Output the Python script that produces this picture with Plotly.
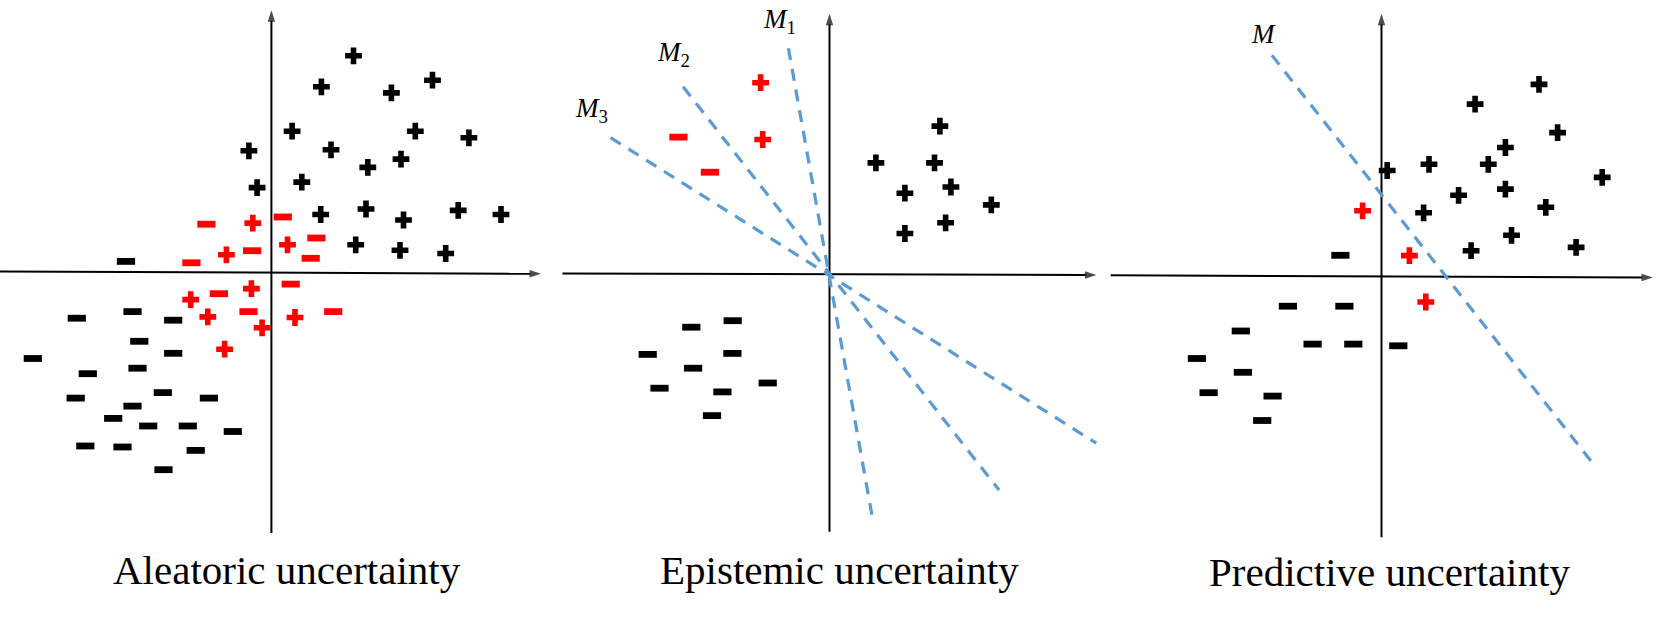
import plotly.graph_objects as go

# ---------------- Panel 1: Aleatoric uncertainty ----------------
p1_black_plus_x = [82.1, 50.0, 120.0, 161.1, 20.7, 143.9, 197.5, -22.5, 59.6, 96.4, 129.6,
                   -14.3, 30.4, 49.3, 94.6, 132.1, 186.8, 229.6, 84.3, 128.6, 174.3]
p1_black_plus_y = [216.6, 185.6, 179.5, 192.2, 141.2, 141.2, 134.6, 121.6, 122.6, 105.0, 113.3,
                   84.8, 90.3, 57.9, 63.4, 52.4, 62.0, 57.9, 27.6, 22.1, 18.9]
p1_red_plus_x = [-18.6, -45.0, 16.1, -20.0, -80.7, -63.6, -9.3, 23.6, -46.8]
p1_red_plus_y = [49.3, 17.6, 27.6, -16.2, -27.2, -44.5, -55.4, -45.1, -76.8]
p1_red_minus_x = [-65.0, 11.4, -19.3, 45.0, -80.0, 39.3, 19.3, -52.5, -22.9, 61.8]
p1_red_minus_y = [48.2, 55.4, 21.7, 34.4, 9.6, 14.1, -11.7, -21.3, -39.2, -39.2]
p1_black_minus_x = [-145.4, -194.6, -138.9, -98.2, -132.1, -238.6, -98.2, -183.6, -133.9, -195.7, -108.6,
                    -62.5, -138.9, -158.2, -123.2, -83.6, -38.6, -186.1, -148.9, -75.7, -107.9]
p1_black_minus_y = [11.0, -45.8, -39.2, -47.8, -68.9, -86.1, -80.9, -101.3, -95.8, -125.7, -120.2,
                    -125.7, -133.7, -146.0, -153.6, -153.6, -159.1, -173.6, -174.6, -178.0, -197.3]

# ---------------- Panel 2: Epistemic uncertainty ----------------
p2_black_plus_x = [110.4, 46.4, 105.0, 121.4, 75.4, 161.8, 116.1, 75.4]
p2_black_plus_y = [147.7, 110.9, 110.9, 86.8, 80.6, 68.9, 51.0, 40.3]
p2_red_plus_x = [-68.9, -66.8]
p2_red_plus_y = [191.1, 134.3]
p2_red_minus_x = [-151.1, -119.6]
p2_red_minus_y = [136.7, 101.6]
p2_black_minus_x = [-96.8, -138.2, -181.8, -97.1, -136.4, -170.0, -107.1, -61.8, -117.5]
p2_black_minus_y = [-46.9, -53.4, -80.6, -79.6, -94.4, -114.4, -118.1, -109.2, -141.8]
p2_model_names = ["M<sub>1</sub>", "M<sub>2</sub>", "M<sub>3</sub>"]
p2_model_x = [[-41.1, 42.9], [-146.4, 169.6], [-218.9, 266.8]]
p2_model_y = [[225.6, -243.9], [187.0, -216.3], [136.1, -169.4]]
p2_label_x = [-50.0, -156.0, -238.0]
p2_label_y = [252.8, 219.8, 163.8]

# ---------------- Panel 3: Predictive uncertainty ----------------
p3_black_plus_x = [157.5, 93.6, 176.1, 123.9, 5.7, 47.5, 106.8, 220.7, 77.1, 123.9, 42.1, 164.3, 130.0, 89.6, 194.6]
p3_black_plus_y = [191.5, 171.8, 143.3, 128.4, 105.4, 111.6, 111.6, 98.5, 80.6, 86.8, 63.1, 68.6, 40.6, 25.2, 28.5]
p3_red_plus_x = [-18.9, 27.9, 44.3]
p3_red_plus_y = [65.1, 20.3, -26.1]
p3_black_minus_x = [-41.1, -93.6, -37.1, -140.7, -68.9, -28.2, 16.8, -184.6, -138.6, -172.9, -108.9, -119.3]
p3_black_minus_y = [20.6, -30.3, -30.3, -55.1, -68.2, -68.2, -69.9, -82.6, -96.4, -116.8, -120.2, -144.6]
p3_model_x = [-109.6, 210.7]
p3_model_y = [220.7, -186.7]
p3_label_x = [-117.7]
p3_label_y = [242.4]

titles = ["Aleatoric uncertainty", "Epistemic uncertainty", "Predictive uncertainty"]
title_x = [15.3, 9.5, 7.5]
title_y = [-297.6, -296.2, -295.8]

# axis extents per panel: (x_left, x_right_tip, y_left, y_right, y_bottom, y_top_tip)
axis_ext = [
    (-271.4, 269.6, 1.0, -1.4, -260.6, 262.1),
    (-267.0, 266.9, 0.3, -1.3, -257.9, 260.0),
    (-270.8, 271.4, 0.7, -1.7, -261.4, 262.1),
]

# layout of panels (pixel frame)
W, H = 1658, 621
panel_px = [(0, 553), (553, 1105), (1105, 1658)]
origin_px = [(271.4, 272.4), (829.5, 273.8), (1381.5, 275.9)]

RED = "#FF0000"
BLACK = "#000000"
BLUE = "#5B9BD5"
DASH = "12px,9px"

fig = go.Figure()

def plus_trace(x, y, color, n):
    return go.Scatter(x=x, y=y, mode="markers", xaxis="x" + n, yaxis="y" + n,
                      marker=dict(symbol="cross", size=14, color=color, line=dict(width=0)),
                      hoverinfo="skip", showlegend=False)

def minus_trace(x, y, color, n):
    return go.Scatter(x=x, y=y, mode="markers", xaxis="x" + n, yaxis="y" + n,
                      marker=dict(symbol="line-ew", size=13, color=color,
                                  line=dict(width=6.8, color=color)),
                      hoverinfo="skip", showlegend=False)

def axis_trace(x, y, n):
    return go.Scatter(x=x, y=y, mode="lines+markers", xaxis="x" + n, yaxis="y" + n,
                      line=dict(color=BLACK, width=2),
                      marker=dict(symbol="arrow", angleref="previous", size=[0, 12],
                                  color=BLACK, line=dict(width=0)),
                      hoverinfo="skip", showlegend=False)

# axes of each panel
for i in range(3):
    n = "" if i == 0 else str(i + 1)
    xl, xt, yl, yrr, yb, yt = axis_ext[i]
    fig.add_trace(axis_trace([xl, xt], [yl, yrr], n))
    fig.add_trace(axis_trace([0, 0], [yb, yt], n))

# Panel 1
fig.add_trace(plus_trace(p1_black_plus_x, p1_black_plus_y, BLACK, ""))
fig.add_trace(plus_trace(p1_red_plus_x, p1_red_plus_y, RED, ""))
fig.add_trace(minus_trace(p1_red_minus_x, p1_red_minus_y, RED, ""))
fig.add_trace(minus_trace(p1_black_minus_x, p1_black_minus_y, BLACK, ""))

# Panel 2
for mx, my in zip(p2_model_x, p2_model_y):
    fig.add_trace(go.Scatter(x=mx, y=my, mode="lines", xaxis="x2", yaxis="y2",
                             line=dict(color=BLUE, width=3.2, dash=DASH),
                             hoverinfo="skip", showlegend=False))
fig.add_trace(plus_trace(p2_black_plus_x, p2_black_plus_y, BLACK, "2"))
fig.add_trace(plus_trace(p2_red_plus_x, p2_red_plus_y, RED, "2"))
fig.add_trace(minus_trace(p2_red_minus_x, p2_red_minus_y, RED, "2"))
fig.add_trace(minus_trace(p2_black_minus_x, p2_black_minus_y, BLACK, "2"))

# Panel 3
fig.add_trace(go.Scatter(x=p3_model_x, y=p3_model_y, mode="lines", xaxis="x3", yaxis="y3",
                         line=dict(color=BLUE, width=3.2, dash=DASH),
                         hoverinfo="skip", showlegend=False))
fig.add_trace(plus_trace(p3_black_plus_x, p3_black_plus_y, BLACK, "3"))
fig.add_trace(plus_trace(p3_red_plus_x, p3_red_plus_y, RED, "3"))
fig.add_trace(minus_trace(p3_black_minus_x, p3_black_minus_y, BLACK, "3"))

annotations = []
axes_layout = {}
for i in range(3):
    n = "" if i == 0 else str(i + 1)
    xr = "x" + n
    yr = "y" + n
    x0, x1 = panel_px[i]
    ox, oy = origin_px[i]
    axes_layout["xaxis" + n] = dict(domain=[x0 / W, x1 / W], range=[x0 - ox, x1 - ox],
                                    visible=False, fixedrange=True, anchor=yr)
    axes_layout["yaxis" + n] = dict(domain=[0, 1], range=[oy - H, oy],
                                    visible=False, fixedrange=True, anchor=xr)
    annotations.append(dict(x=title_x[i], y=title_y[i], xref=xr, yref=yr, text=titles[i],
                            showarrow=False, xanchor="center", yanchor="middle",
                            font=dict(family="Liberation Serif, Times New Roman, serif",
                                      size=41, color=BLACK)))

for name, lx, ly in zip(p2_model_names, p2_label_x, p2_label_y):
    annotations.append(dict(x=lx, y=ly, xref="x2", yref="y2",
                            text="<i>" + name.replace("<sub>", "</i><sub>"),
                            showarrow=False, xanchor="center", yanchor="middle",
                            font=dict(family="Liberation Serif, serif", size=27, color=BLACK)))
annotations.append(dict(x=p3_label_x[0], y=p3_label_y[0], xref="x3", yref="y3", text="<i>M</i>",
                        showarrow=False, xanchor="center", yanchor="middle",
                        font=dict(family="Liberation Serif, serif", size=27, color=BLACK)))

fig.update_layout(width=W, height=H, margin=dict(l=0, r=0, t=0, b=0),
                  paper_bgcolor="white", plot_bgcolor="white",
                  annotations=annotations, **axes_layout)

fig.write_html("out.html", config={"displayModeBar": False, "staticPlot": True},
               post_script="document.body.style.margin='0';document.body.style.overflow='hidden';")
